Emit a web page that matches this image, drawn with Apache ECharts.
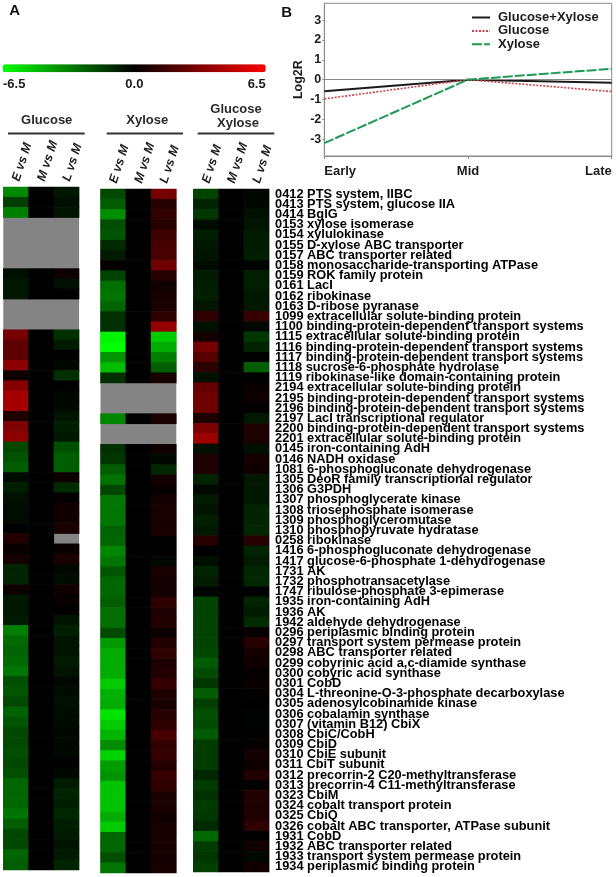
<!DOCTYPE html>
<html><head><meta charset="utf-8">
<style>html,body{margin:0;padding:0;background:#fff}#c{width:616px;height:877px}</style>
<script src="https://cdn.jsdelivr.net/npm/echarts@6/dist/echarts.min.js"></script>
</head><body><div id="c"></div>
<script>
const geneLabels = ["0412 PTS system, IIBC","0413 PTS system, glucose IIA","0414 BglG","0153 xylose isomerase","0154 xylulokinase","0155 D-xylose ABC transporter","0157 ABC transporter related","0158 monosaccharide-transporting ATPase","0159 ROK family protein","0161 LacI","0162 ribokinase","0163 D-ribose pyranase","1099 extracellular solute-binding protein","1100 binding-protein-dependent transport systems","1115 extracellular solute-binding protein","1116 binding-protein-dependent transport systems","1117 binding-protein-dependent transport systems","1118 sucrose-6-phosphate hydrolase","1119 ribokinase-like domain-containing protein","2194 extracellular solute-binding protein","2195 binding-protein-dependent transport systems","2196 binding-protein-dependent transport systems","2197 LacI transcriptional regulator","2200 binding-protein-dependent transport systems","2201 extracellular solute-binding protein","0145 iron-containing AdH","0146 NADH oxidase","1081 6-phosphogluconate dehydrogenase","1305 DeoR family transcriptional regulator","1306 G3PDH","1307 phosphoglycerate kinase","1308 triosephosphate isomerase","1309 phosphoglyceromutase","1310 phosphopyruvate hydratase","0258 ribokinase","1416 6-phosphogluconate dehydrogenase","1417 glucose-6-phosphate 1-dehydrogenase","1731 AK","1732 phosphotransacetylase","1747 ribulose-phosphate 3-epimerase","1935 iron-containing AdH","1936 AK","1942 aldehyde dehydrogenase","0296 periplasmic binding protein","0297 transport system permease protein","0298 ABC transporter related","0299 cobyrinic acid a,c-diamide synthase","0300 cobyric acid synthase","0301 CobD","0304 L-threonine-O-3-phosphate decarboxylase","0305 adenosylcobinamide kinase","0306 cobalamin synthase","0307 (vitamin B12) CbiX","0308 CbiC/CobH","0309 CbiD","0310 CbiE subunit","0311 CbiT subunit","0312 precorrin-2 C20-methyltransferase","0313 precorrin-4 C11-methyltransferase","0323 CbiM","0324 cobalt transport protein","0325 CbiQ","0326 cobalt ABC transporter, ATPase subunit","1931 CobD","1932 ABC transporter related","1933 transport system permease protein","1934 periplasmic binding protein"];
const comparisons = ["E vs M","M vs M","L vs M"];
const _ = null;
const glucoseE = [-3.5,-1.6,-3.2,_,_,_,_,_,-0.4,-0.6,-0.6,_,_,_,3.0,2.4,2.4,3.6,0.4,3.4,4.2,4.2,0.8,3.2,3.6,-1.8,-2.1,-2.4,-0.3,-0.8,-0.4,-0.3,-0.3,0,0.9,0.2,0.5,-0.9,-0.9,0.3,-0.6,-0.6,-0.7,-3.2,-2.7,-2.5,-2.7,-3.0,-2.0,-2.2,-1.8,-2.5,-2.2,-1.8,-1.8,-2.0,-1.8,-2.0,-2.6,-2.6,-2.6,-3.0,-2.4,-1.8,-1.8,-2.6,-2.4];
const glucoseM = [0,0,0,_,_,_,_,_,0,0,0,_,_,_,0,0,0,0,0,0,0,0,0,0,0,0,0,0,0,0,0,0,0,0,0,0,0,0,0,0,0,0,0,0,0,0,0,0,0,0,0,0,0,0,0,0,0,0,0,0,0,0,0,0,0,0,0];
const glucoseL = [-0.6,-0.4,-0.5,_,_,_,_,_,0.3,-0.4,0,_,_,_,-1.2,-0.7,0,-0.2,-1.2,0,-0.2,-0.2,-0.5,-0.8,-0.6,-2.0,-2.4,-2.4,0.3,-1.1,0.1,0.4,0.4,0.6,_,0.2,0.7,-0.2,-0.3,0.4,0.2,0.1,-0.5,-0.8,-0.5,-0.5,-0.7,-0.5,-0.2,-0.3,-0.4,-0.3,-0.3,-0.15,-0.2,-0.2,0,-0.2,-0.7,-0.9,-0.8,-1.0,-0.8,-0.7,-0.5,-0.7,-0.9];
const xyloseE = [-1.8,-2.4,-3.6,-2.0,-2.2,-1.1,-0.7,0.1,-1.7,-2.8,-3.0,-2.6,-1.2,-1.2,-6.2,-6.5,-3.8,-4.8,-1.2,_,_,_,-3.4,_,_,-1.2,-1.4,-2.4,-2.9,-1.8,-3.0,-3.0,-3.0,-2.5,-2.6,-3.4,-3.0,-2.2,-2.6,-2.6,-2.4,-2.8,-2.8,-1.9,-3.9,-4.4,-4.4,-4.4,-5.2,-4.5,-4.4,-5.8,-5.2,-4.6,-3.6,-5.4,-4.0,-3.8,-5.0,-5.0,-5.0,-4.4,-5.2,-2.6,-2.6,-2.0,-3.0];
const xyloseM = [0,0,0,0,0,0,0,0,0,0,0,0,0,0,0,0,0,0,0,_,_,_,0,_,_,0,0,0,0,0,0,0,0,0,0,0,0,0,0,0,0,0,0,0,0,0,0,0,0,0,0,0,0,0,0,0,0,0,0,0,0,0,0,0,0,0,0];
const xyloseL = [3.0,1.0,1.3,1.0,1.6,1.8,1.9,2.8,1.0,0.4,0.6,0.7,1.2,3.8,-5.2,-4.4,-3.2,-2.4,0.6,_,_,_,0.7,_,_,0.4,-0.2,-1.0,0.5,0.2,0.5,0.6,0.6,0.7,0,0,-0.2,0.7,0.5,0.5,1.2,0.8,0.9,0.3,0.9,1.2,0.8,0.9,1.4,0.8,0.6,1.0,1.2,1.8,1.3,1.4,0.9,1.4,1.2,0.7,0.7,0.4,0.6,0.6,0.6,0.5,0.6];
const bothE = [-1.7,-0.9,-1.4,-0.3,-0.8,-0.6,-0.5,-0.3,-0.7,-0.8,-0.8,-0.5,1.2,-0.4,0.5,3.0,2.2,1.1,-0.4,2.6,2.8,2.8,0.8,3.2,4.0,-0.4,0.8,0.8,-0.9,-0.2,-0.7,-0.5,-0.8,-0.6,1.0,0,-0.4,-0.9,-0.7,-0.1,-1.7,-1.7,-1.7,-1.7,-1.7,-1.8,-2.3,-1.9,-1.4,-2.4,-1.6,-2.0,-1.9,-2.3,-1.5,-1.5,-1.5,-1.0,-1.5,-1.2,-1.5,-1.4,-1.1,-2.7,-1.5,-1.4,-1.6];
const bothM = [0,0,0,0,0,0,0,0,0,0,0,0,0,0,0,0,0,0,0,0,0,0,0,0,0,0,0,0,0,0,0,0,0,0,0,0,0,0,0,0,0,0,0,0,0,0,0,0,0,0,0,0,0,0,0,0,0,0,0,0,0,0,0,0,0,0,0];
const bothL = [-0.2,-0.2,-0.4,-0.5,-0.7,-0.7,-0.8,-0.1,-0.8,-0.8,-0.6,-0.6,1.4,-0.2,-1.4,-0.9,0,-2.4,0,0.2,0.3,0.1,-0.6,0.8,0.7,-0.4,0.5,0.4,-0.6,-0.6,-0.6,-0.9,-0.9,-1.0,1.0,-0.9,-0.7,-1.0,-1.0,0,-0.9,-0.7,-1.1,0.2,1.0,0.5,0.4,0.1,0.2,0.1,0,-0.1,-0.1,0.1,0.1,0.5,0.3,0.9,0.1,0.9,0.8,0.8,1.2,0,0.4,-0.2,0.4];
const stages = ["Early","Mid","Late"];
const lineBoth = [-0.58,0,-0.16];
const lineGlucose = [-0.97,0,-0.6];
const lineXylose = [-3.2,0,0.55];
const yTicks = [-3,-2,-1,0,1,2,3];
const scaleTicks = [-6.5,0,6.5];

const FONT = '"Liberation Sans", Arial, sans-serif';
const INK = '#1c1c1c';
const panels = [
  {cols:[glucoseE,glucoseM,glucoseL], left:3.3, top:187, h:683},
  {cols:[xyloseE,xyloseM,xyloseL], left:100.5, top:189, h:684},
  {cols:[bothE,bothM,bothL], left:193.3, top:189, h:683}
];
const grid=[], xAxis=[], yAxis=[], series=[];
panels.forEach((p,i)=>{
  grid.push({left:p.left,top:p.top,width:75.8,height:p.h,show:true,backgroundColor:'#848484',borderWidth:0});
  xAxis.push({type:'category',gridIndex:i,position:'top',data:comparisons,
    axisLine:{show:false},axisTick:{show:false},
    axisLabel:{interval:0,rotate:-72,margin:6,fontFamily:FONT,fontWeight:'bold',fontStyle:'italic',fontSize:12.5,color:INK}});
  yAxis.push({type:'category',gridIndex:i,inverse:true,data:geneLabels,position:'right',
    axisLine:{show:false},axisTick:{show:false},
    axisLabel:i===2?{show:true,interval:0,margin:6,fontFamily:FONT,fontWeight:'bold',fontSize:12.8,color:'#000',align:'left'}:{show:false}});
  const data=[];
  p.cols.forEach((col,x)=>col.forEach((v,y)=>{if(v!==null)data.push([x,y,v]);}));
  series.push({type:'heatmap',xAxisIndex:i,yAxisIndex:i,data:data,silent:true,itemStyle:{borderWidth:0},emphasis:{disabled:true},progressive:0,animation:false});
});
// colour scale axis (labels under the visual map bar)
grid.push({left:2.5,top:64.3,width:263.2,height:8});
xAxis.push({type:'value',gridIndex:3,min:-6.5,max:6.5,position:'bottom',
  axisLine:{show:false},axisTick:{show:false},splitLine:{show:false},
  axisLabel:{customValues:scaleTicks,formatter:v=>v.toFixed(1),margin:6,alignMinLabel:'left',alignMaxLabel:'right',fontFamily:FONT,fontWeight:'bold',fontSize:13,color:INK}});
yAxis.push({type:'value',gridIndex:3,show:false});
// line chart
grid.push({left:324.3,top:3.3,width:287.4,height:152.7,show:true,borderColor:'#8a8a8a',borderWidth:1,backgroundColor:'transparent'});
xAxis.push({type:'category',gridIndex:4,data:stages,boundaryGap:false,
  axisLine:{onZero:false,lineStyle:{color:'#8a8a8a',width:1}},axisTick:{length:3,lineStyle:{color:'#8a8a8a'}},splitLine:{show:false},
  axisLabel:{interval:0,margin:9,alignMinLabel:'left',alignMaxLabel:'right',fontFamily:FONT,fontWeight:'bold',fontSize:13,color:INK}});
yAxis.push({type:'value',gridIndex:4,min:-3.85,max:3.85,splitLine:{show:false},
  name:'Log2R',nameLocation:'middle',nameRotate:90,nameGap:19,nameTextStyle:{fontFamily:FONT,fontWeight:'bold',fontSize:12.5,color:INK},
  axisLine:{show:true,lineStyle:{color:'#8a8a8a',width:1}},axisTick:{show:true,length:2,customValues:yTicks,lineStyle:{color:'#8a8a8a'}},
  axisLabel:{customValues:yTicks,margin:3,fontFamily:FONT,fontWeight:'bold',fontSize:12.5,color:INK}});
const lineSeries=(name,data,color,type,width,z)=>({name,type:'line',xAxisIndex:4,yAxisIndex:4,data,symbol:'none',silent:true,animation:false,z,lineStyle:{color,type,width},itemStyle:{color}});
const s1=lineSeries('Glucose+Xylose',lineBoth,'#1a1a1a','solid',2,3);
s1.markLine={silent:true,symbol:'none',animation:false,label:{show:false},lineStyle:{color:'#8a8a8a',type:'solid',width:1.2},data:[{yAxis:0}]};
series.push(s1,lineSeries('Glucose',lineGlucose,'#c8434a',[2,1.5],1.6,4),lineSeries('Xylose',lineXylose,'#1f9a52',[10,2],2,5));

const headText=(text,cx,cy)=>({type:'text',x:cx,y:cy,style:{text,fill:'#2a2a2a',font:'bold 13px '+FONT,align:'center',verticalAlign:'middle'}});
const rule=(x1,x2)=>({type:'line',shape:{x1,y1:133.5,x2,y2:133.5},style:{stroke:'#333',lineWidth:2}});

const option={
  animation:false,backgroundColor:'#fff',
  grid,xAxis,yAxis,series,
  legend:{left:471,top:11,orient:'vertical',itemWidth:18,itemHeight:13,itemGap:0.4,padding:0,selectedMode:false,
    itemStyle:{opacity:0},
    data:['Glucose+Xylose','Glucose','Xylose'],
    textStyle:{fontFamily:FONT,fontWeight:'bold',fontSize:13,color:INK,padding:[0,0,0,3]}},
  visualMap:{type:'continuous',min:-6.5,max:6.5,orient:'horizontal',left:2.5,top:64.3,itemWidth:8,itemHeight:263.2,padding:0,
    calculable:false,showLabel:false,text:null,hoverLink:false,seriesIndex:[0,1,2],
    inRange:{color:['#00ff00','#000000','#ff0000']}},
  graphic:[
    {type:'text',x:14.7,y:11,style:{text:'A',fill:'#111',font:'bold 15px '+FONT,align:'center',verticalAlign:'middle'}},
    {type:'text',x:286.7,y:12.7,style:{text:'B',fill:'#111',font:'bold 15px '+FONT,align:'center',verticalAlign:'middle'}},
    headText('Glucose',46.7,120.3),headText('Xylose',147.3,120.3),
    headText('Glucose',236,109.7),headText('Xylose',238,123.3),
    rule(8,84.7),rule(106.7,183),rule(197.7,274.3)
  ]
};
const chart=echarts.init(document.getElementById('c'),null,{renderer:'canvas',width:616,height:877});
chart.setOption(option);
</script></body></html>
